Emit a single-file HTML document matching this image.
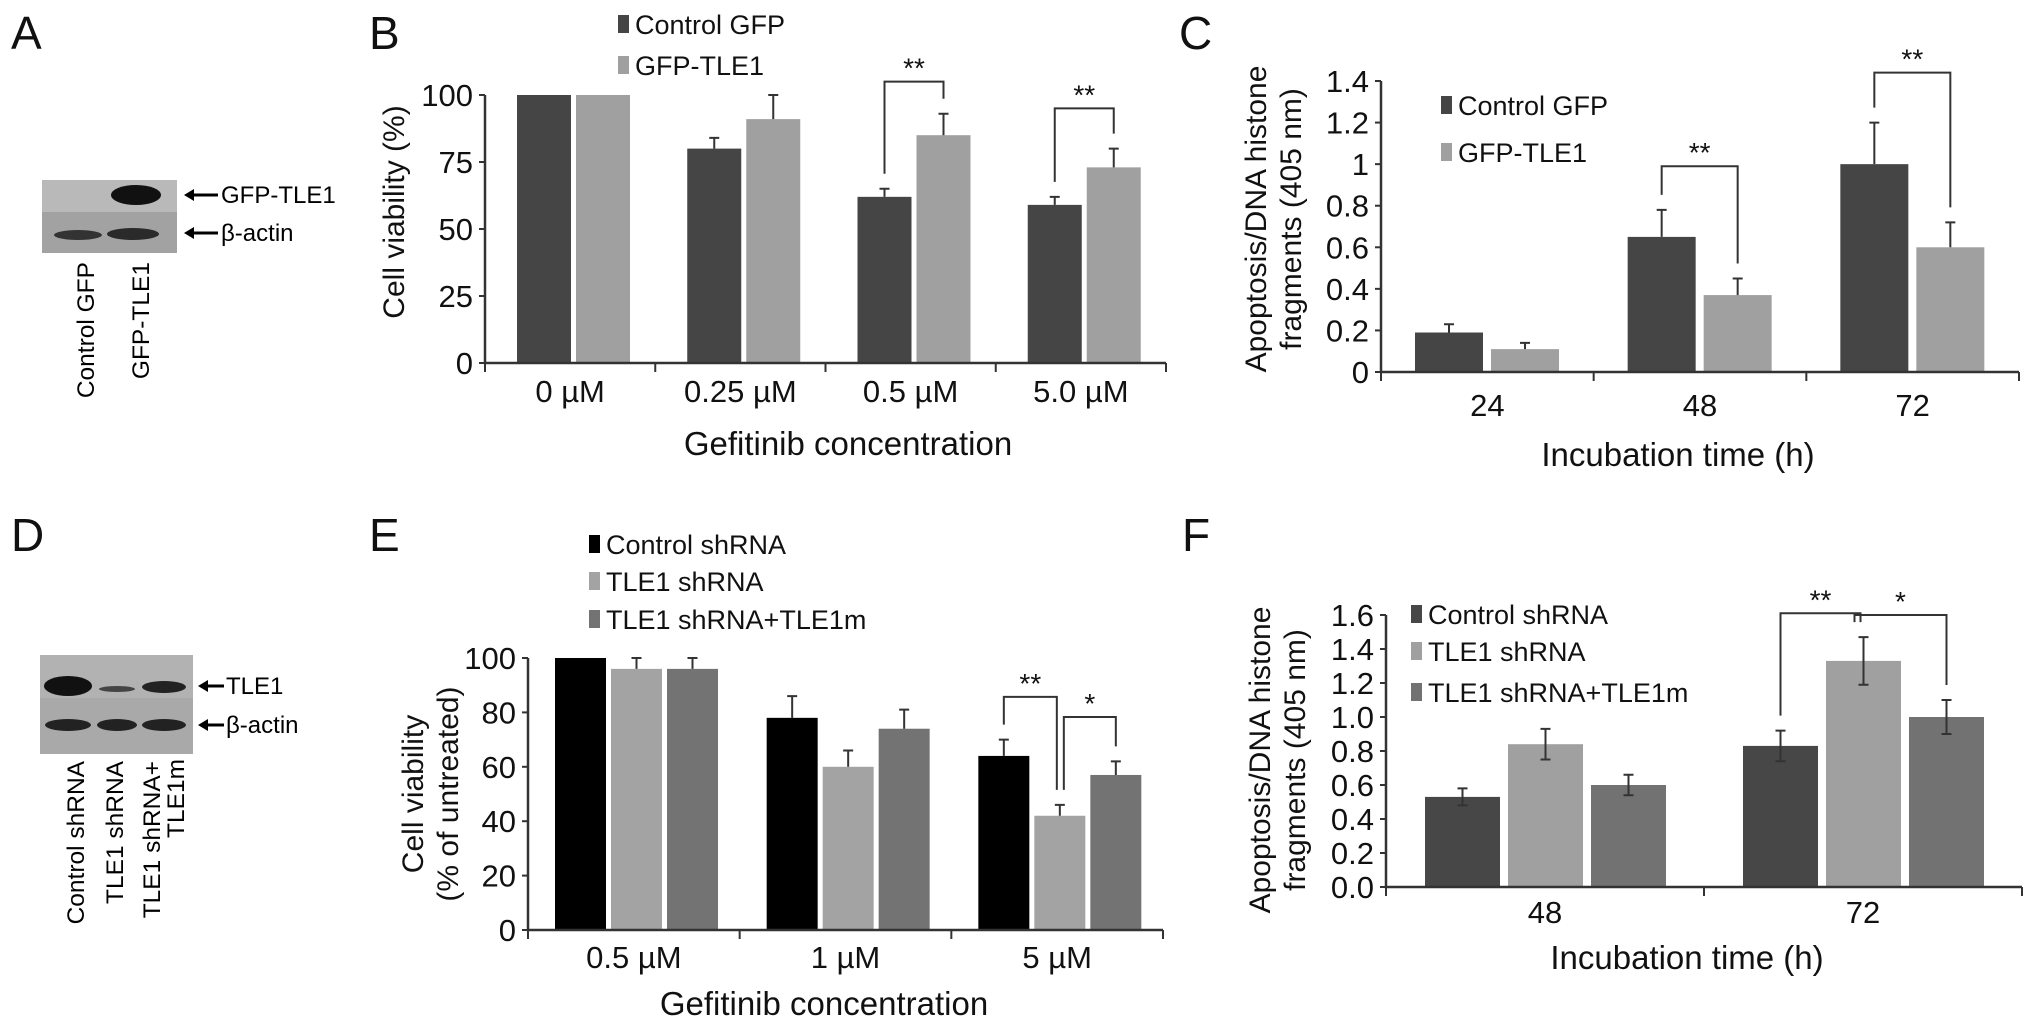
<!DOCTYPE html>
<html><head><meta charset="utf-8"><style>
html,body{margin:0;padding:0;background:#fff;}
svg{display:block;font-family:"Liberation Sans",Arial,sans-serif;}
</style></head><body>
<svg id="fig" width="2032" height="1033" viewBox="0 0 2032 1033" xmlns="http://www.w3.org/2000/svg">
<g font-size="46" fill="#111">
<text x="11" y="49">A</text><text x="369" y="49">B</text><text x="1179" y="49">C</text>
<text x="11" y="551">D</text><text x="369" y="551">E</text><text x="1182" y="551">F</text>
</g>
<g>
<rect x="42" y="180" width="135" height="32" fill="#b9b9b9"/>
<rect x="42" y="212" width="135" height="41" fill="#a2a2a2"/>
<ellipse cx="136" cy="195" rx="25" ry="10" fill="#111"/>
<ellipse cx="78" cy="235" rx="24" ry="5" fill="#333"/>
<ellipse cx="133" cy="234" rx="26" ry="6" fill="#2a2a2a"/>
<g stroke="#000" stroke-width="3"><line x1="190" y1="195" x2="218" y2="195"/><line x1="190" y1="233" x2="218" y2="233"/></g>
<polygon points="184,195 194,189 194,201" fill="#000"/><polygon points="184,233 194,227 194,239" fill="#000"/>
<text x="221" y="203" font-size="24">GFP-TLE1</text><text x="221" y="241" font-size="24">β-actin</text>
<text transform="translate(94,262) rotate(-90)" text-anchor="end" font-size="24.5">Control GFP</text>
<text transform="translate(149,262) rotate(-90)" text-anchor="end" font-size="24.5">GFP-TLE1</text>
</g>
<g>
<rect x="40" y="655" width="153" height="43" fill="#b2b2b2"/>
<rect x="40" y="698" width="153" height="56" fill="#a9a9a9"/>
<ellipse cx="68" cy="686" rx="24" ry="10" fill="#111"/>
<ellipse cx="117" cy="689" rx="18" ry="3" fill="#444"/>
<ellipse cx="164" cy="687" rx="22" ry="6" fill="#222"/>
<ellipse cx="68" cy="725" rx="23" ry="6" fill="#222"/>
<ellipse cx="117" cy="725" rx="20" ry="6" fill="#222"/>
<ellipse cx="164" cy="725" rx="22" ry="6" fill="#222"/>
<g stroke="#000" stroke-width="3"><line x1="204" y1="686" x2="224" y2="686"/><line x1="204" y1="725" x2="224" y2="725"/></g>
<polygon points="198,686 208,680 208,692" fill="#000"/><polygon points="198,725 208,719 208,731" fill="#000"/>
<text x="226" y="694" font-size="24">TLE1</text><text x="226" y="733" font-size="24">β-actin</text>
<text transform="translate(84,761) rotate(-90)" text-anchor="end" font-size="24.5">Control shRNA</text>
<text transform="translate(123,761) rotate(-90)" text-anchor="end" font-size="24.5">TLE1 shRNA</text>
<text transform="translate(160,761) rotate(-90)" text-anchor="end" font-size="24.5">TLE1 shRNA+</text>
<text transform="translate(184,759) rotate(-90)" text-anchor="end" font-size="24.5">TLE1m</text>
</g>
</svg>
<script>
// Panel B data
const bCats=['0 µM','0.25 µM','0.5 µM','5.0 µM'];
const bCtrl=[100,80,62,59];
const bGfp=[100,91,85,73];
const bCtrlErr=[0,4,3,3];
const bGfpErr=[0,9,8,7];
const bTicks=['0','25','50','75','100'];
// Panel C data
const cCats=['24','48','72'];
const cCtrl=[0.19,0.65,1.0];
const cGfp=[0.11,0.37,0.6];
const cCtrlErr=[0.04,0.13,0.2];
const cGfpErr=[0.03,0.08,0.12];
const cTicks=['0','0.2','0.4','0.6','0.8','1','1.2','1.4'];
// Panel E data
const eCats=['0.5 µM','1 µM','5 µM'];
const eCtrl=[100,78,64];
const eSh=[96,60,42];
const eShM=[96,74,57];
const eCtrlErr=[0,8,6];
const eShErr=[4,6,4];
const eShMErr=[4,7,5];
const eTicks=['0','20','40','60','80','100'];
// Panel F data
const fCats=['48','72'];
const fCtrl=[0.53,0.83];
const fSh=[0.84,1.33];
const fShM=[0.6,1.0];
const fCtrlErr=[0.05,0.09];
const fShErr=[0.09,0.14];
const fShMErr=[0.06,0.1];
const fTicks=['0.0','0.2','0.4','0.6','0.8','1.0','1.2','1.4','1.6'];

const NS='http://www.w3.org/2000/svg';
const svg=document.getElementById('fig');
function mk(tag,attrs,parent,txt){const e=document.createElementNS(NS,tag);for(const k in attrs)e.setAttribute(k,attrs[k]);if(txt!==undefined)e.textContent=txt;(parent||svg).appendChild(e);return e;}

function chart(c){
  const g=mk('g',{});
  
  
  const ticks=c.ticks.map(Number);
  const min=ticks[0],max=ticks[ticks.length-1];
  const Y=v=>c.y0-(v-min)/(max-min)*(c.y0-c.yTop);
  const n=c.cats.length, gw=(c.x1-c.x0)/n;
  const barX=(gi,si)=>c.x0+gi*gw+c.off+si*(c.bw+c.gap);
  c.series.forEach((s,si)=>{
    s.vals.forEach((v,gi)=>{
      const x=barX(gi,si);
      const r=mk('rect',{x:x,y:Y(v),width:c.bw,height:c.y0-Y(v),fill:s.color},g);
      
      
      const e=s.err[gi];
      if(e>0){
        const cx=x+c.bw/2;
        const eb=mk('path',{d:`M${cx},${Y(v)}V${Y(v+e)}M${cx-5},${Y(v+e)}H${cx+5}`+(c.both?`M${cx},${Y(v)}V${Y(v-e)}M${cx-5},${Y(v-e)}H${cx+5}`:''),stroke:'#333','stroke-width':2,fill:'none'},g);
        
        
      }
    });
  });
  const ax=mk('path',{d:`M${c.x0},${Y(max)}V${c.y0}H${c.x1}`,stroke:'#333','stroke-width':2.5,fill:'none'},g);
  
  
  ticks.forEach((t,i)=>{
    mk('line',{x1:c.x0-6,x2:c.x0,y1:Y(t),y2:Y(t),stroke:'#333','stroke-width':2},g);
    const tl=mk('text',{x:c.x0-12,y:Y(t)+11,'text-anchor':'end','font-size':31,fill:'#111'},g,c.ticks[i]);
    
    
  });
  for(let i=0;i<=n;i++){mk('line',{x1:c.x0+i*gw,x2:c.x0+i*gw,y1:c.y0,y2:c.y0+9,stroke:'#333','stroke-width':2},g);}
  c.cats.forEach((cat,i)=>{
    const xl=mk('text',{x:c.x0+(i+0.5)*gw,y:c.xlY,'text-anchor':'middle','font-size':31,fill:'#111'},g,cat);
    
    
  });
  const xt=mk('text',{x:c.xtX,y:c.xtY,'text-anchor':'middle','font-size':33,fill:'#111'},g,c.xTitle);
  
  
  c.yTitle.forEach((line,i)=>{
    const yt=mk('text',{transform:`translate(${c.ytX[i]},${c.ytY}) rotate(-90)`,'text-anchor':'middle','font-size':30,fill:'#111'},g,line);
    
    
  });
  c.series.forEach((s,si)=>{
    const ly=c.legY[si];
    const lg=mk('g',{},g);
    
    
    mk('rect',{x:c.legX,y:ly-19,width:11,height:18,fill:s.color},lg);
    mk('text',{x:c.legX+17,y:ly,'font-size':27,fill:'#111'},lg,s.label);
  });
  c.brackets.forEach(b=>{
    const s1=c.series[b.s1],s2=c.series[b.s2];
    const xa=barX(b.g,b.s1)+c.bw/2+(b.da||0), xb=barX(b.g,b.s2)+c.bw/2+(b.db||0);
    const ya=Y(s1.vals[b.g]+s1.err[b.g])-15, yb=Y(s2.vals[b.g]+s2.err[b.g])-15;
    const top=Y(b.level);
    const bg=mk('g',{},g);
    
    
    mk('path',{d:`M${xa},${ya}V${top}H${xb}V${yb}`,stroke:'#333','stroke-width':2,fill:'none'},bg);
    mk('text',{x:(xa+xb)/2,y:top-4,'text-anchor':'middle','font-size':28,fill:'#111'},bg,b.txt);
  });
}

chart({name:'chart-b',cats:bCats,ticks:bTicks,x0:485,x1:1166,y0:363,yTop:95,off:32,bw:54,gap:5,
  series:[{key:'control-gfp',label:'Control GFP',color:'#454545',vals:bCtrl,err:bCtrlErr},
          {key:'gfp-tle1',label:'GFP-TLE1',color:'#a0a0a0',vals:bGfp,err:bGfpErr}],
  xlY:402,xtX:848,xtY:455,xTitle:'Gefitinib concentration',yTitle:['Cell viability (%)'],ytX:[404],ytY:212,
  legX:618,legY:[34,75],
  brackets:[{g:2,s1:0,s2:1,level:105,txt:'**'},{g:3,s1:0,s2:1,level:95,txt:'**'}]});

chart({name:'chart-c',cats:cCats,ticks:cTicks,x0:1381,x1:2019,y0:372,yTop:81,off:34,bw:68,gap:8,
  series:[{key:'control-gfp',label:'Control GFP',color:'#454545',vals:cCtrl,err:cCtrlErr},
          {key:'gfp-tle1',label:'GFP-TLE1',color:'#a0a0a0',vals:cGfp,err:cGfpErr}],
  xlY:416,xtX:1678,xtY:466,xTitle:'Incubation time (h)',yTitle:['Apoptosis/DNA histone','fragments (405 nm)'],ytX:[1266,1301],ytY:219,
  legX:1441,legY:[115,162],
  brackets:[{g:1,s1:0,s2:1,level:0.99,txt:'**'},{g:2,s1:0,s2:1,level:1.44,txt:'**'}]});

chart({name:'chart-e',cats:eCats,ticks:eTicks,x0:528,x1:1163,y0:930,yTop:658,off:27,bw:51,gap:5,
  series:[{key:'control-shrna',label:'Control shRNA',color:'#000000',vals:eCtrl,err:eCtrlErr},
          {key:'tle1-shrna',label:'TLE1 shRNA',color:'#a3a3a3',vals:eSh,err:eShErr},
          {key:'tle1-shrna-tle1m',label:'TLE1 shRNA+TLE1m',color:'#737373',vals:eShM,err:eShMErr}],
  xlY:968,xtX:824,xtY:1015,xTitle:'Gefitinib concentration',yTitle:['Cell viability','(% of untreated)'],ytX:[423,458],ytY:794,
  legX:589,legY:[554,591,629],
  brackets:[{g:2,s1:0,s2:1,level:85.7,txt:'**',db:-3},{g:2,s1:1,s2:2,level:78.3,txt:'*',da:4}]});

chart({name:'chart-f',cats:fCats,ticks:fTicks,x0:1386,x1:2022,y0:887,yTop:615,off:39,bw:75,gap:8,both:true,
  series:[{key:'control-shrna',label:'Control shRNA',color:'#474747',vals:fCtrl,err:fCtrlErr},
          {key:'tle1-shrna',label:'TLE1 shRNA',color:'#a0a0a0',vals:fSh,err:fShErr},
          {key:'tle1-shrna-tle1m',label:'TLE1 shRNA+TLE1m',color:'#727272',vals:fShM,err:fShMErr}],
  xlY:923,xtX:1687,xtY:969,xTitle:'Incubation time (h)',yTitle:['Apoptosis/DNA histone','fragments (405 nm)'],ytX:[1270,1305],ytY:760,
  legX:1411,legY:[624,661,702],
  brackets:[{g:1,s1:0,s2:1,level:1.61,txt:'**',db:-3},{g:1,s1:1,s2:2,level:1.6,txt:'*',da:-9}]});
</script>
</body></html>
